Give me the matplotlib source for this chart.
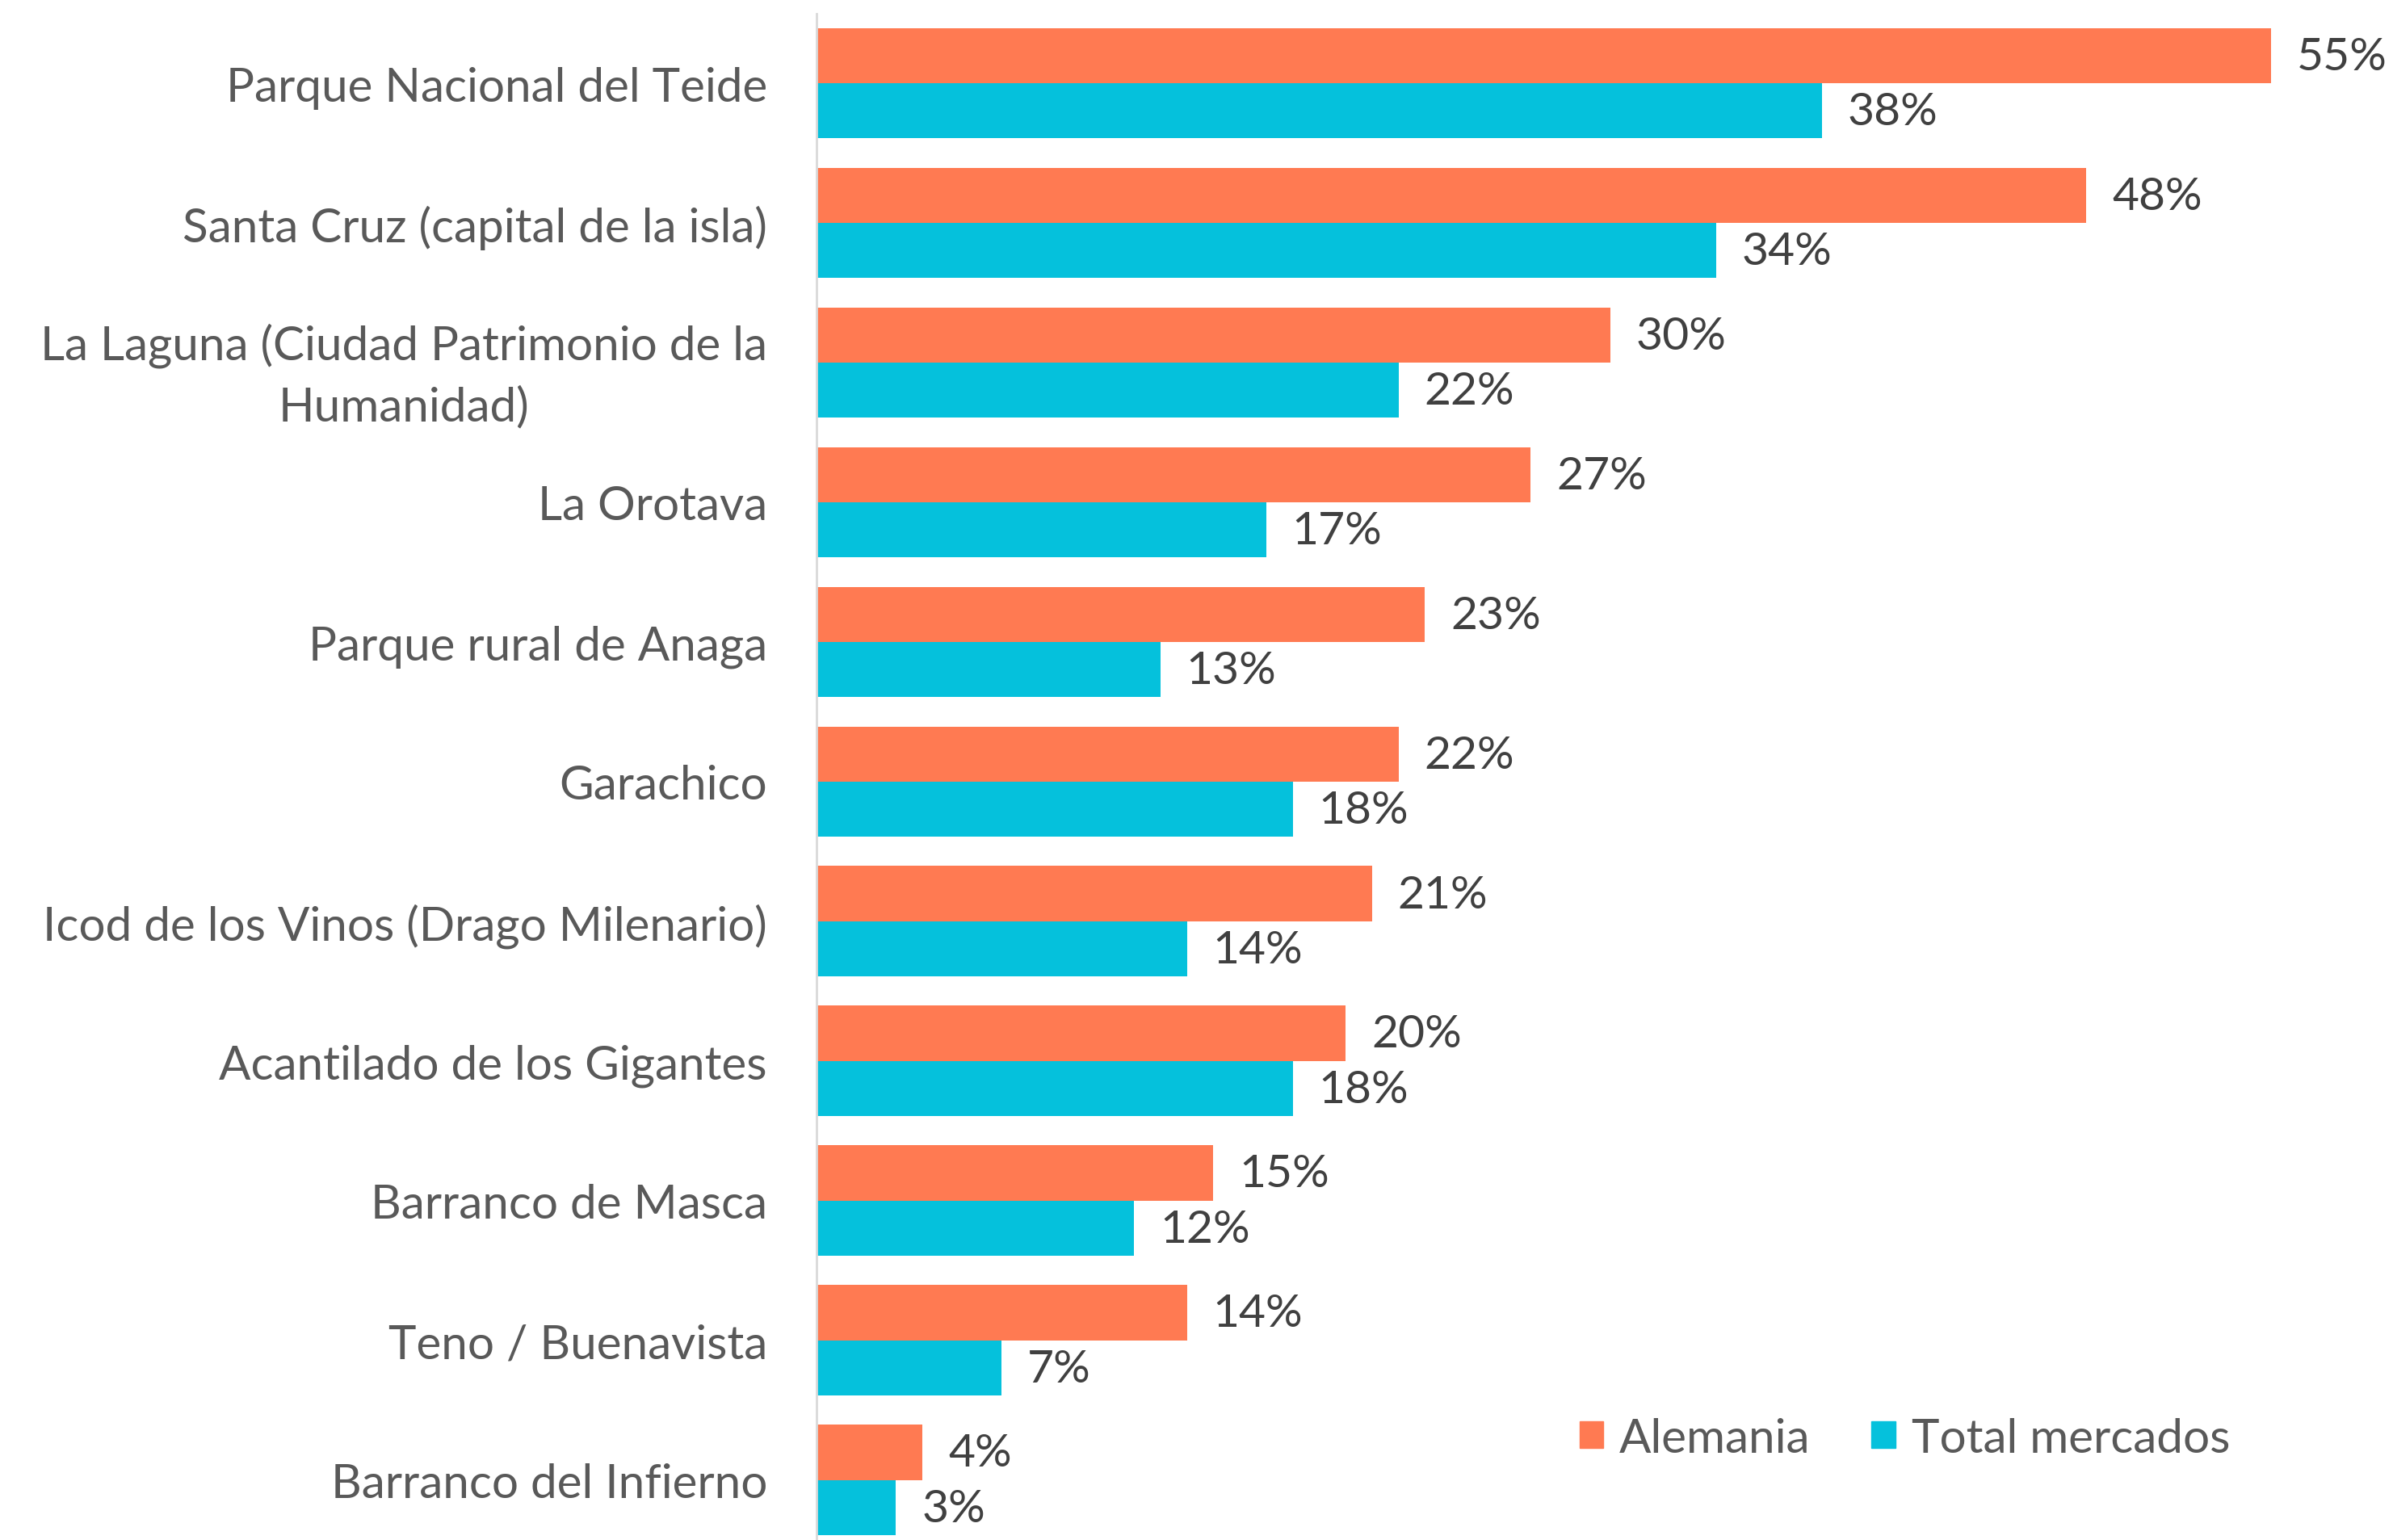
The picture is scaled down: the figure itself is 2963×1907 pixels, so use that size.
import numpy as np
import matplotlib.pyplot as plt
from matplotlib.patches import Patch

# DATA
places = [
    "Parque Nacional del Teide",
    "Santa Cruz (capital de la isla)",
    "La Laguna (Ciudad Patrimonio de la\nHumanidad)",
    "La Orotava",
    "Parque rural de Anaga",
    "Garachico",
    "Icod de los Vinos (Drago Milenario)",
    "Acantilado de los Gigantes",
    "Barranco de Masca",
    "Teno / Buenavista",
    "Barranco del Infierno",
]
alemania = [55, 48, 30, 27, 23, 22, 21, 20, 15, 14, 4]
total_mercados = [38, 34, 22, 17, 13, 18, 14, 18, 12, 7, 3]
series_names = ["Alemania", "Total mercados"]

ORANGE = "#FF7A52"
CYAN = "#05C1DC"
GREY = "#595959"

plt.rcParams["font.family"] = ["Lato", "DejaVu Sans"]

fig = plt.figure(figsize=(29.63, 19.08), dpi=100)
ax = fig.add_axes([1011 / 2963, 0.0, 1 - 1011 / 2963, 0.9908])

y = np.arange(len(places))
h = 0.395

bars_a = ax.barh(y - h / 2, alemania, height=h, color=ORANGE)
bars_t = ax.barh(y + h / 2, total_mercados, height=h, color=CYAN)

# DATA LABELS
for bars, vals in ((bars_a, alemania), (bars_t, total_mercados)):
    for b, v in zip(bars, vals):
        ax.annotate(
            f"{v}%",
            (b.get_width(), b.get_y() + b.get_height() / 2),
            xytext=(23, -1),
            textcoords="offset points",
            va="center",
            ha="left",
            fontsize=41,
            color="#404040",
        )

ax.set_xlim(0, 59.6)
ax.set_ylim(10.43, -0.5)

ax.set_yticks(y)
ax.set_yticklabels(places, fontsize=42, color=GREY)
for lab in ax.get_yticklabels():
    lab.set_multialignment("center")
    lab.set_linespacing(1.5)
ax.tick_params(axis="y", length=0, pad=44)
ax.set_xticks([])

for side in ("top", "right", "bottom"):
    ax.spines[side].set_visible(False)
ax.spines["left"].set_color("#d9d9d9")
ax.spines["left"].set_linewidth(2)

# LEGEND
handles = [Patch(color=ORANGE), Patch(color=CYAN)]
leg = fig.legend(
    handles,
    series_names,
    loc="center left",
    bbox_to_anchor=(0.660, 0.066),
    ncol=2,
    frameon=False,
    borderpad=0,
    borderaxespad=0,
    fontsize=42,
    handlelength=0.5,
    handleheight=0.5,
    handletextpad=0.35,
    columnspacing=1.3,
)
for t in leg.get_texts():
    t.set_color(GREY)

fig.savefig("out.png", dpi=100)
